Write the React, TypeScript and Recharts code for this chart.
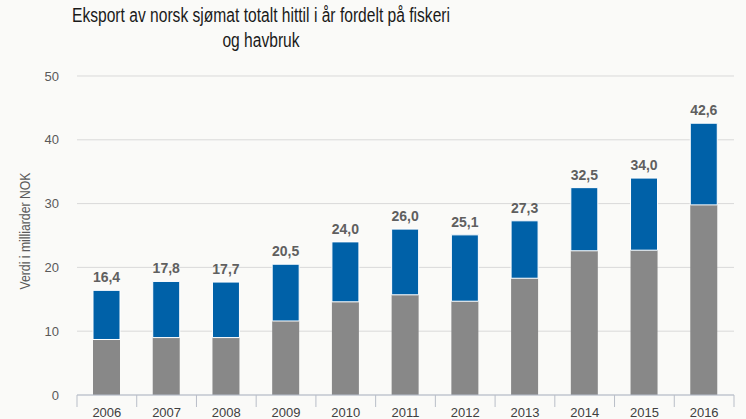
import React from "react";
import { BarChart, Bar, XAxis, YAxis, CartesianGrid, LabelList } from "recharts";

const years = ["2006", "2007", "2008", "2009", "2010", "2011", "2012", "2013", "2014", "2015", "2016"];
const havbruk = [8.7, 9.0, 9.0, 11.6, 14.6, 15.7, 14.7, 18.3, 22.6, 22.7, 29.8];
const fiskeri = [7.7, 8.8, 8.7, 8.9, 9.4, 10.3, 10.4, 9.0, 9.9, 11.3, 12.8];
const totals = ["16,4", "17,8", "17,7", "20,5", "24,0", "26,0", "25,1", "27,3", "32,5", "34,0", "42,6"];
const yTicks = [0, 10, 20, 30, 40, 50];

const data = years.map((y, i) => ({
  year: y,
  havbruk: havbruk[i],
  fiskeri: fiskeri[i],
  total: totals[i],
}));

const W = 746;
const H = 419;
const M = { top: 76, right: 12, bottom: 0, left: 47 };
const Y_W = 30;
const X_H = 24;
const plotW = W - M.left - M.right - Y_W;
const half = plotW / years.length / 2;

const XTick = (props: any) => {
  const { x, y, payload, index } = props;
  return (
    <g>
      <line x1={x - half} y1={y} x2={x - half} y2={y + 12} stroke="#b9bec8" strokeWidth={1} />
      {index === years.length - 1 && (
        <line x1={x + half} y1={y} x2={x + half} y2={y + 12} stroke="#b9bec8" strokeWidth={1} />
      )}
      <text x={x} y={y + 22} textAnchor="middle" fontSize={13} fill="#404040" fontFamily="Liberation Sans, Arial, sans-serif">
        {payload.value}
      </text>
    </g>
  );
};

export default function App() {
  return (
    <div style={{ position: "absolute", left: 0, top: 0, width: W, height: H, background: "#fafaf8", overflow: "hidden", fontFamily: "Liberation Sans, Arial, sans-serif" }}>
      <div style={{ position: "absolute", left: 0, top: 0, width: 522, textAlign: "center", fontSize: 19.5, lineHeight: "25px", color: "#1a1a1a", paddingTop: 3 }}>
        <div style={{ transform: "scaleX(0.8)", transformOrigin: "261px 0" }}>
          Eksport av norsk sjømat totalt hittil i år fordelt på fiskeri
          <br />
          og havbruk
        </div>
      </div>
      <svg style={{ position: "absolute", left: 0, top: 0 }} width={60} height={H}>
        <text
          x={0}
          y={0}
          transform="translate(30 231) rotate(-90)"
          textAnchor="middle"
          fontSize={14}
          fill="#595959"
          textLength={117}
          lengthAdjust="spacingAndGlyphs"
          fontFamily="Liberation Sans, Arial, sans-serif"
        >
          Verdi i milliarder NOK
        </text>
      </svg>
      <div style={{ position: "absolute", left: 0, top: 0 }}>
        <BarChart width={W} height={H} data={data} margin={M} barSize={27}>
          <CartesianGrid vertical={false} stroke="#d9d9d9" strokeWidth={1} />
          <XAxis
            dataKey="year"
            height={X_H}
            axisLine={{ stroke: "#b4bccb" }}
            tickLine={false}
            tickSize={0}
            tickMargin={0}
            tick={<XTick />}
            interval={0}
          />
          <YAxis
            width={Y_W}
            domain={[0, 50]}
            ticks={yTicks}
            axisLine={false}
            tickLine={false}
            tickSize={0}
            tickMargin={18}
            tick={{ fontSize: 13, fill: "#595959", fontFamily: "Liberation Sans, Arial, sans-serif" }}
          />
          <Bar dataKey="havbruk" stackId="a" fill="#888888" isAnimationActive={false} />
          <Bar dataKey="fiskeri" stackId="a" fill="#0061a8" stroke="#ffffff" strokeWidth={1} isAnimationActive={false}>
            <LabelList
              dataKey="total"
              position="top"
              offset={8}
              fill="#5f5f5f"
              fontSize={14}
              fontWeight="bold"
              fontFamily="Liberation Sans, Arial, sans-serif"
            />
          </Bar>
        </BarChart>
      </div>
    </div>
  );
}
